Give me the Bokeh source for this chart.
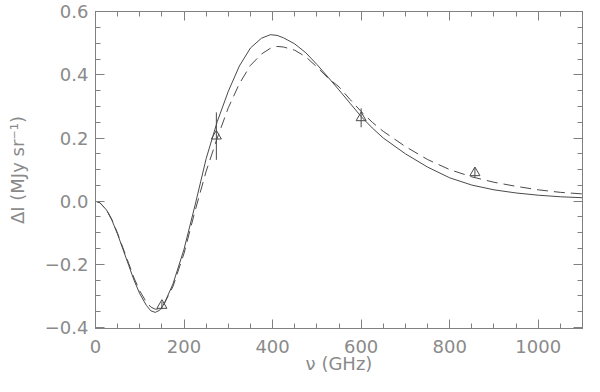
from bokeh.plotting import figure
from bokeh.models import (Range1d, LinearAxis, SingleIntervalTicker,
                          CustomJSTickFormatter, ColumnDataSource)
from bokeh.embed import file_html
from bokeh.resources import INLINE

# ---- data ----
nu_model = [0, 10, 25, 37, 50, 62, 75, 87, 100, 115, 125, 135, 145, 155, 175, 200,
            225, 250, 275, 300, 325, 350, 375, 395, 410, 425, 450, 475, 500, 525,
            550, 575, 600, 625, 650, 700, 750, 800, 850, 900, 950, 1000, 1050, 1100]
dI_solid = [0, -0.005, -0.028, -0.060, -0.105, -0.152, -0.203, -0.25, -0.293, -0.33,
            -0.347, -0.352, -0.345, -0.325, -0.262, -0.152, -0.012, 0.135, 0.252,
            0.348, 0.428, 0.485, 0.516, 0.527, 0.525, 0.517, 0.498, 0.47, 0.433,
            0.393, 0.352, 0.31, 0.268, 0.232, 0.2, 0.15, 0.108, 0.074, 0.051, 0.036,
            0.026, 0.019, 0.014, 0.011]
dI_dashed = [0, -0.005, -0.027, -0.058, -0.102, -0.148, -0.197, -0.243, -0.284, -0.32,
             -0.335, -0.342, -0.34, -0.325, -0.27, -0.165, -0.03, 0.095, 0.2, 0.296,
             0.372, 0.43, 0.466, 0.484, 0.49, 0.488, 0.478, 0.457, 0.425, 0.39,
             0.362, 0.322, 0.284, 0.25, 0.221, 0.173, 0.132, 0.1, 0.077, 0.06,
             0.047, 0.036, 0.028, 0.023]

nu_obs = [150, 273, 600, 857]
dI_obs = [-0.33, 0.206, 0.264, 0.09]
dI_err = [0.012, 0.075, 0.03, 0.015]

x_label = "ν (GHz)"
y_label = "ΔI (MJy sr⁻¹)"

# ---- styling ----
TXT = "#8a8a8a"
AXC = "#808080"
LINE = "#4a4a4a"
FONT = "DejaVu Sans"

p = figure(width=584, height=376, output_backend="svg", toolbar_location=None,
           x_range=Range1d(0, 1100), y_range=Range1d(-0.403, 0.6005),
           min_border_left=95, min_border_right=2, min_border_top=11,
           min_border_bottom=0, x_axis_type=None, y_axis_type=None)
p.background_fill_color = "white"
p.border_fill_color = "white"
p.outline_line_color = AXC
p.grid.visible = False

yfmt = CustomJSTickFormatter(code="""
if (Math.abs(tick) < 1e-9) { return "0.0"; }
return tick.toFixed(1).replace('-', '\u2212');
""")
blank = CustomJSTickFormatter(code="return '';")

def style(ax):
    ax.axis_line_color = AXC
    ax.major_tick_line_color = AXC
    ax.minor_tick_line_color = AXC
    ax.major_tick_in = 9
    ax.major_tick_out = 0
    ax.minor_tick_in = 5
    ax.minor_tick_out = 0
    ax.major_label_text_font = FONT
    ax.major_label_text_color = TXT
    ax.axis_label_text_font = FONT
    ax.axis_label_text_color = TXT
    ax.axis_label_text_font_style = "normal"

xb = LinearAxis(ticker=SingleIntervalTicker(interval=200, num_minor_ticks=4),
                axis_label=x_label)
style(xb)
xb.major_label_text_font_size = "18px"
xb.major_label_standoff = 11
xb.axis_label_text_font_size = "18px"
xb.axis_label_standoff = -3
p.add_layout(xb, "below")

yl = LinearAxis(ticker=SingleIntervalTicker(interval=0.2, num_minor_ticks=4),
                formatter=yfmt, axis_label=y_label)
style(yl)
yl.major_label_text_font_size = "18px"
yl.major_label_standoff = 7
yl.axis_label_text_font_size = "18px"
yl.axis_label_standoff = 14
p.add_layout(yl, "left")

xt = LinearAxis(ticker=SingleIntervalTicker(interval=200, num_minor_ticks=4),
                formatter=blank)
style(xt)
xt.major_label_text_font_size = "1px"
xt.major_label_standoff = 0
p.add_layout(xt, "above")

yr = LinearAxis(ticker=SingleIntervalTicker(interval=0.2, num_minor_ticks=4),
                formatter=blank)
style(yr)
yr.major_label_text_font_size = "1px"
yr.major_label_standoff = 0
p.add_layout(yr, "right")

# ---- model curves ----
p.line(nu_model, dI_solid, line_color=LINE, line_width=1)
p.line(nu_model, dI_dashed, line_color=LINE, line_width=1, line_dash="11 6")

# ---- data points with error bars ----
src = ColumnDataSource(dict(
    x=nu_obs, y=dI_obs,
    lo=[v - e for v, e in zip(dI_obs, dI_err)],
    hi=[v + e for v, e in zip(dI_obs, dI_err)],
))
p.segment(x0="x", y0="lo", x1="x", y1="hi", source=src, line_color=LINE, line_width=1)
p.scatter(x="x", y="y", source=src, marker="triangle", size=10,
          fill_color=None, line_color=LINE, line_width=1)

open("out.html", "w").write(file_html(p, INLINE))
